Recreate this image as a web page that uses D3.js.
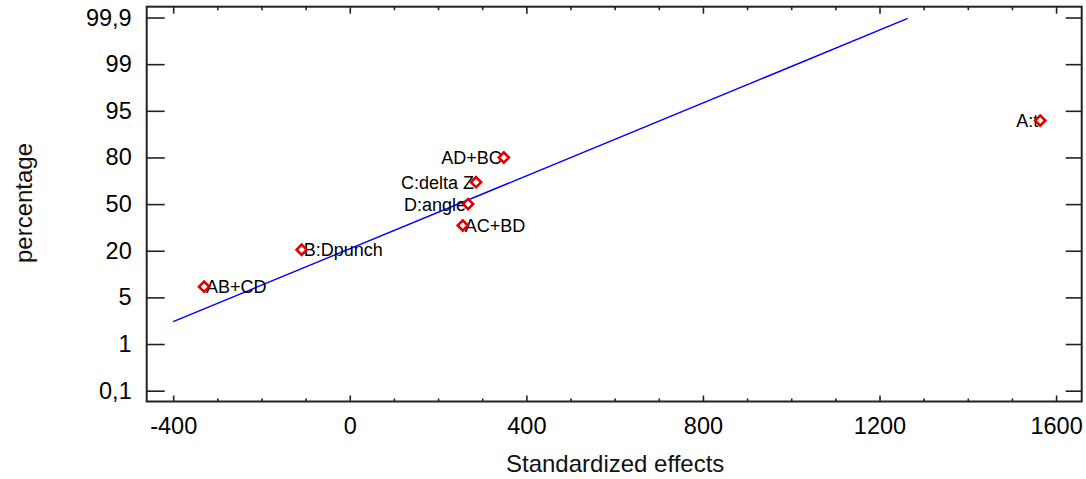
<!DOCTYPE html>
<html>
<head>
<meta charset="utf-8">
<script src="https://cdn.jsdelivr.net/npm/d3@7"></script>
<style>
  html, body { margin: 0; padding: 0; background: #fff; }
  svg { display: block; font-family: "Liberation Sans", Arial, sans-serif; }
</style>
</head>
<body>
<svg id="chart" width="1086" height="479"></svg>
<script>
// ---- data ----
const effectNames = ["AB+CD", "B:Dpunch", "AC+BD", "D:angle", "C:delta Z", "AD+BC", "A:t"];
const effectValues = [-330, -109, 256, 268, 286, 349, 1564];
// position on the normal probability scale, in units of percentage tick steps
const probPositions = [2.23, 3.02, 3.54, 4.00, 4.47, 5.00, 5.79];
const labelSide = ["right", "right", "right", "left", "left", "left", "left"];

const lineEffects = [-400, 1264];
const linePositions = [1.48, 7.98];

const xMajorTicks = [-400, 0, 400, 800, 1200, 1600];
const xTickLabels = ["-400", "0", "400", "800", "1200", "1600"];
const xMinorTicks = [-300, -200, -100, 100, 200, 300, 500, 600, 700, 900, 1000, 1100, 1300, 1400, 1500];
const yTickLabels = ["0,1", "1", "5", "20", "50", "80", "95", "99", "99,9"];
const yTickPositions = [0, 1, 2, 3, 4, 5, 6, 7, 8];

const xTitle = "Standardized effects";
const yTitle = "percentage";

// ---- layout ----
const L = 146.7, R = 1081.7, T = 6.7, B = 401.5;
const svg = d3.select("#chart");

const x = d3.scaleLinear().domain([-460, 1658]).range([L, R]);
const y = d3.scaleLinear().domain([-0.232, 8.232]).range([B, T]);

// bottom axis (major with labels)
const gx = svg.append("g").attr("transform", `translate(0,${B})`)
  .call(d3.axisBottom(x).tickValues(xMajorTicks)
    .tickFormat((d, i) => xTickLabels[i]).tickSize(-6).tickPadding(16));
gx.selectAll("text").attr("font-size", 23.5).attr("fill", "#000")
  .attr("font-family", "Liberation Sans, Arial, sans-serif");
// bottom minor
const gxm = svg.append("g").attr("transform", `translate(0,${B})`)
  .call(d3.axisBottom(x).tickValues(xMinorTicks).tickFormat("").tickSize(-3));
// top axis
const gt = svg.append("g").attr("transform", `translate(0,${T})`)
  .call(d3.axisTop(x).tickValues(xMajorTicks).tickFormat("").tickSize(-7));
const gtm = svg.append("g").attr("transform", `translate(0,${T})`)
  .call(d3.axisTop(x).tickValues(xMinorTicks).tickFormat("").tickSize(-3.5));

// left axis
const gy = svg.append("g").attr("transform", `translate(${L},0)`)
  .call(d3.axisLeft(y).tickValues(yTickPositions)
    .tickFormat((d, i) => yTickLabels[i]).tickSize(-18).tickPadding(15));
gy.selectAll("text").attr("font-size", 23.5).attr("fill", "#000")
  .attr("font-family", "Liberation Sans, Arial, sans-serif");
// right axis
const gr = svg.append("g").attr("transform", `translate(${R},0)`)
  .call(d3.axisRight(y).tickValues(yTickPositions).tickFormat("").tickSize(-16));

[gx, gxm, gt, gtm, gy, gr].forEach(g => {
  g.select(".domain").remove();
  g.selectAll(".tick line").attr("stroke", "#222").attr("stroke-width", 1.6);
});

// frame
svg.append("rect").attr("x", L).attr("y", T).attr("width", R - L).attr("height", B - T)
  .attr("fill", "none").attr("stroke", "#222").attr("stroke-width", 2);

// reference line
const lineData = lineEffects.map((v, i) => [v, linePositions[i]]);
svg.append("path").datum(lineData)
  .attr("d", d3.line().x(d => x(d[0])).y(d => y(d[1])))
  .attr("stroke", "#0000ff").attr("stroke-width", 1.4).attr("fill", "none");

// points
const pts = effectNames.map((n, i) => ({ name: n, v: effectValues[i], p: probPositions[i], side: labelSide[i] }));

svg.append("g").selectAll("text").data(pts).join("text")
  .attr("x", d => d.side === "right" ? x(d.v) + 2 : x(d.v) - 2)
  .attr("y", d => y(d.p))
  .attr("dy", "0.36em")
  .attr("text-anchor", d => d.side === "right" ? "start" : "end")
  .attr("font-size", 18).attr("fill", "#000")
  .text(d => d.name);

const diamond = d3.symbol().type(d3.symbolSquare).size(52);
svg.append("g").selectAll("path").data(pts).join("path")
  .attr("d", diamond)
  .attr("transform", d => `translate(${x(d.v)},${y(d.p)}) rotate(45)`)
  .attr("fill", "none").attr("stroke", "#e00000").attr("stroke-width", 2.6);

// titles
svg.append("text").attr("x", (L + R) / 2 + 1).attr("y", 472)
  .attr("text-anchor", "middle").attr("font-size", 24).attr("fill", "#111").text(xTitle);
svg.append("text").attr("transform", `translate(32,203) rotate(-90)`)
  .attr("text-anchor", "middle").attr("font-size", 24).attr("fill", "#111").text(yTitle);
</script>
</body>
</html>
